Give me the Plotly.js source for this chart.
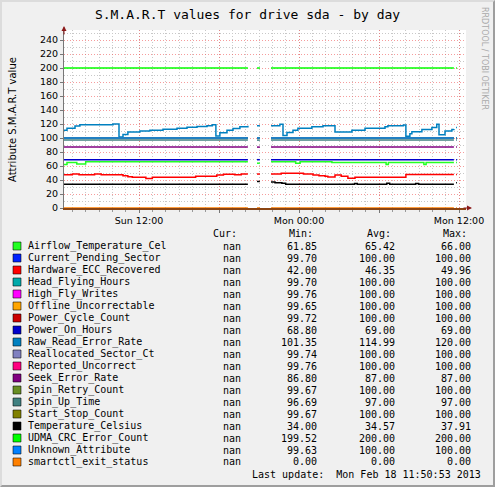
<!DOCTYPE html>
<html>
<head>
<meta charset="utf-8">
<script src="https://cdn.plot.ly/plotly-3.0.1.min.js"></script>
<style>
  html, body { margin: 0; padding: 0; background: #f0f0f0; }
  #wrap { position: relative; width: 495px; height: 487px; }
  #chart { width: 495px; height: 487px; }
  #frame { position: absolute; left: 0; top: 0; width: 495px; height: 487px; box-sizing: border-box;
           border-left: 2px solid #dcdcdc; border-top: 2px solid #dcdcdc;
           border-right: 2px solid #9e9e9e; border-bottom: 2px solid #9e9e9e; pointer-events: none; }
</style>
</head>
<body>
<div id="wrap"><div id="chart"></div><div id="frame"></div></div>
<script>
// ---- time window of the day view ----
const viewStart = '2013-02-17 06:22:30';
const viewEnd = '2013-02-18 12:31:30';
const majorTimes = ['2013-02-17 12:00', '2013-02-17 18:00', '2013-02-18 00:00', '2013-02-18 06:00', '2013-02-18 12:00'];
const majorText = ['Sun 12:00', '', 'Mon 00:00', '', 'Mon 12:00'];

// ---- attribute names and colours (drawing order) ----
const seriesNames = ['Airflow_Temperature_Cel', 'Current_Pending_Sector', 'Hardware_ECC_Recovered', 'Head_Flying_Hours',
  'High_Fly_Writes', 'Offline_Uncorrectable', 'Power_Cycle_Count', 'Power_On_Hours', 'Raw_Read_Error_Rate',
  'Reallocated_Sector_Ct', 'Reported_Uncorrect', 'Seek_Error_Rate', 'Spin_Retry_Count', 'Spin_Up_Time',
  'Start_Stop_Count', 'Temperature_Celsius', 'UDMA_CRC_Error_Count', 'Unknown_Attribute', 'smartctl_exit_status'];
const seriesColors = ['#22ff22', '#0022ff', '#ff0000', '#00aaaa', '#ff00ff', '#ffa500', '#cc0000', '#0000cc', '#0080c0',
  '#8080c0', '#ff0080', '#800080', '#688e23', '#408080', '#808000', '#000000', '#00ff00', '#0080ff', '#ff8000'];

// ---- legend statistics ----
const curVals = ['nan', 'nan', 'nan', 'nan', 'nan', 'nan', 'nan', 'nan', 'nan', 'nan', 'nan', 'nan', 'nan', 'nan', 'nan', 'nan', 'nan', 'nan', 'nan'];
const minVals = ['61.85', '99.70', '42.00', '99.70', '99.76', '99.65', '99.72', '68.80', '101.35', '99.74', '99.76', '86.80', '99.67', '96.69', '99.67', '34.00', '199.52', '99.63', '0.00'];
const avgVals = ['65.42', '100.00', '46.35', '100.00', '100.00', '100.00', '100.00', '69.00', '114.99', '100.00', '100.00', '87.00', '100.00', '97.00', '100.00', '34.57', '200.00', '100.00', '0.00'];
const maxVals = ['66.00', '100.00', '49.96', '100.00', '100.00', '100.00', '100.00', '69.00', '120.00', '100.00', '100.00', '87.00', '100.00', '97.00', '100.00', '37.91', '200.00', '100.00', '0.00'];
const lastUpdate = 'Last update:  Mon Feb 18 11:50:53 2013';

// ---- samples for the flat attributes (null = polling gap) ----
const flatTimes = ['2013-02-17 06:22', '2013-02-17 20:10', '2013-02-17 20:30', '2013-02-17 20:51', '2013-02-17 21:04',
  '2013-02-17 21:30', '2013-02-17 21:54', '2013-02-18 11:37', '2013-02-18 11:42', '2013-02-18 11:47', '2013-02-18 11:51'];
const currentPending = [100, 100, null, 100, 100, null, 100, 100, null, 100, 100];
const headFlying = [100, 100, null, 100, 100, null, 100, 100, null, 100, 100];
const highFly = [100, 100, null, 100, 100, null, 100, 100, null, 100, 100];
const offlineUnc = [100, 100, null, 100, 100, null, 100, 100, null, 100, 100];
const powerCycle = [100, 100, null, 100, 100, null, 100, 100, null, 100, 100];
const powerOn = [69, 69, null, 69, 69, null, 69, 69, null, 69, 69];
const reallocated = [100, 100, null, 100, 100, null, 100, 100, null, 100, 100];
const reportedUnc = [100, 100, null, 100, 100, null, 100, 100, null, 100, 100];
const seekError = [87, 87, null, 87, 87, null, 87, 87, null, 87, 87];
const spinRetry = [100, 100, null, 100, 100, null, 100, 100, null, 100, 100];
const spinUp = [97, 97, null, 97, 97, null, 97, 97, null, 97, 97];
const startStop = [100, 100, null, 100, 100, null, 100, 100, null, 100, 100];
const udmaCrc = [200, 200, null, 200, 200, null, 200, 200, null, 200, 200];
const unknownAttr = [100, 100, null, 100, 100, null, 100, 100, null, 100, 100];
const exitStatus = [0, 0, null, 0, 0, null, 0, 0, null, 0, 0];

// ---- Airflow_Temperature_Cel ----
const airTimes = ['2013-02-17 06:22', '2013-02-17 06:36', '2013-02-17 07:20', '2013-02-17 08:00', '2013-02-17 20:10',
  '2013-02-17 20:30', '2013-02-17 20:51', '2013-02-17 21:04', '2013-02-17 21:30', '2013-02-17 21:54', '2013-02-17 23:45',
  '2013-02-18 00:05', '2013-02-18 02:28', '2013-02-18 06:32', '2013-02-18 06:42', '2013-02-18 09:22', '2013-02-18 09:32',
  '2013-02-18 11:37', '2013-02-18 11:42', '2013-02-18 11:47', '2013-02-18 11:51'];
const airVals = [62, 65, 63, 66, 66, null, 64, 64, null, 66, 64, 66, 65, 62, 65, 62, 65, 65, null, 65, 65];

// ---- Hardware_ECC_Recovered ----
const hwTimes = ['2013-02-17 06:22', '2013-02-17 07:00', '2013-02-17 07:30', '2013-02-17 08:40', '2013-02-17 09:10',
  '2013-02-17 10:48', '2013-02-17 11:10', '2013-02-17 11:30', '2013-02-17 12:31', '2013-02-17 13:00', '2013-02-17 16:15',
  '2013-02-17 17:50', '2013-02-17 18:20', '2013-02-17 19:10', '2013-02-17 19:40', '2013-02-17 20:10', '2013-02-17 20:30',
  '2013-02-17 20:51', '2013-02-17 21:04', '2013-02-17 21:30', '2013-02-17 21:54', '2013-02-17 22:40', '2013-02-18 00:20',
  '2013-02-18 01:03', '2013-02-18 01:30', '2013-02-18 01:57', '2013-02-18 02:10', '2013-02-18 02:42', '2013-02-18 03:10',
  '2013-02-18 03:40', '2013-02-18 04:12', '2013-02-18 08:01', '2013-02-18 11:37', '2013-02-18 11:42', '2013-02-18 11:47',
  '2013-02-18 11:51'];
const hwVals = [47.5, 48.5, 47.5, 48.5, 47.5, 46, 44.5, 43.8, 42.3, 43.8, 45.2, 47, 48.2, 47.5, 48.5, 48.5, null, 48.5,
  48.5, null, 48.5, 49.5, 48.5, 47, 46, 45.2, 44.3, 47, 45.2, 42.4, 43.8, 48, 48, null, 48, 48];

// ---- Raw_Read_Error_Rate ----
const rawTimes = ['2013-02-17 06:22', '2013-02-17 06:36', '2013-02-17 07:12', '2013-02-17 07:34', '2013-02-17 10:03',
  '2013-02-17 10:30', '2013-02-17 10:48', '2013-02-17 11:10', '2013-02-17 12:04', '2013-02-17 12:49', '2013-02-17 13:48',
  '2013-02-17 14:51', '2013-02-17 15:36', '2013-02-17 16:21', '2013-02-17 17:06', '2013-02-17 17:30', '2013-02-17 17:46',
  '2013-02-17 18:04', '2013-02-17 18:36', '2013-02-17 19:03', '2013-02-17 19:34', '2013-02-17 20:10', '2013-02-17 20:30',
  '2013-02-17 20:51', '2013-02-17 21:04', '2013-02-17 21:30', '2013-02-17 21:54', '2013-02-17 22:34', '2013-02-17 22:48',
  '2013-02-17 23:06', '2013-02-17 23:33', '2013-02-17 23:55', '2013-02-18 00:58', '2013-02-18 01:48', '2013-02-18 02:42',
  '2013-02-18 03:58', '2013-02-18 04:57', '2013-02-18 06:27', '2013-02-18 06:40', '2013-02-18 07:50', '2013-02-18 08:01',
  '2013-02-18 08:19', '2013-02-18 08:28', '2013-02-18 09:13', '2013-02-18 09:58', '2013-02-18 10:20', '2013-02-18 10:30',
  '2013-02-18 10:57', '2013-02-18 11:28', '2013-02-18 11:37', '2013-02-18 11:42', '2013-02-18 11:47', '2013-02-18 11:51'];
const rawVals = [111, 114, 117, 119, 120, 101.4, 105, 108.5, 110, 111, 112.5, 114, 115.5, 116.5, 117.5, 119, 103, 107.5,
  111, 113.5, 116, 117.5, null, 117.5, 117.5, null, 117.5, 119.5, 103.5, 108, 111, 114, 116, 117.5, 108.5, 111, 114, 116,
  117.5, 118.5, 102.5, 106, 109, 112, 115, 119.5, 104.5, 110, 112, 113, null, 115, 115];

// ---- Temperature_Celsius ----
const tempTimes = ['2013-02-17 06:22', '2013-02-17 20:10', '2013-02-17 20:30', '2013-02-17 20:51', '2013-02-17 21:04',
  '2013-02-17 21:30', '2013-02-17 21:54', '2013-02-17 22:12', '2013-02-17 22:43', '2013-02-17 23:00', '2013-02-18 04:10',
  '2013-02-18 04:22', '2013-02-18 06:35', '2013-02-18 06:48', '2013-02-18 08:45', '2013-02-18 08:58', '2013-02-18 11:37',
  '2013-02-18 11:42', '2013-02-18 11:47', '2013-02-18 11:51'];
const tempVals = [34, 34, null, 37.9, 37.9, null, 37, 36.2, 35.2, 34, 35, 34, 35.5, 34, 35, 34, 34, null, 36, 36];

// samples per attribute, in legend order
const seriesData = [
  [airTimes, airVals], [flatTimes, currentPending], [hwTimes, hwVals], [flatTimes, headFlying],
  [flatTimes, highFly], [flatTimes, offlineUnc], [flatTimes, powerCycle], [flatTimes, powerOn],
  [rawTimes, rawVals], [flatTimes, reallocated], [flatTimes, reportedUnc], [flatTimes, seekError],
  [flatTimes, spinRetry], [flatTimes, spinUp], [flatTimes, startStop], [tempTimes, tempVals],
  [flatTimes, udmaCrc], [flatTimes, unknownAttr], [flatTimes, exitStatus]
];

const traces = seriesNames.map((name, i) => ({
  type: 'scatter', mode: 'lines', name: name,
  x: seriesData[i][0], y: seriesData[i][1],
  line: { color: seriesColors[i], width: 1.5, shape: 'hv' },
  connectgaps: false, hoverinfo: 'skip'
}));

// ---- page geometry ----
const W = 495, H = 487, ML = 64, MR = 29, MT = 30, MB = 279;
const plotW = W - ML - MR, plotH = H - MT - MB;
const px = v => (v - ML) / plotW;          // page x -> paper x
const py = v => (H - MB - v) / plotH;      // page y -> paper y

const mono = 'DejaVu Sans Mono, monospace';
const sans = 'DejaVu Sans, sans-serif';
const annotations = [];
const shapes = [];

function txt(text, x, y, anchor, size, color, extra) {
  annotations.push(Object.assign({
    text: text, xref: 'paper', yref: 'paper', x: px(x), y: py(y), xanchor: anchor, yanchor: 'middle',
    showarrow: false, font: { family: mono, size: size || 10, color: color || '#000' }, borderpad: 0
  }, extra || {}));
}

// column headers
txt('Cur:', 212, 234, 'left');
txt('Min:', 288, 234, 'left');
txt('Avg:', 366, 234, 'left');
txt('Max:', 442, 234, 'left');

// legend rows
seriesNames.forEach((name, i) => {
  const yc = 246 + 12 * i;
  shapes.push({ type: 'rect', xref: 'paper', yref: 'paper', x0: px(13), x1: px(21), y0: py(yc + 4), y1: py(yc - 4),
    fillcolor: seriesColors[i], line: { color: 'rgba(0,0,0,0.55)', width: 1 }, layer: 'above' });
  txt(name, 27, yc, 'left');
  txt(curVals[i], 242, yc, 'right');
  txt(minVals[i], 318, yc, 'right');
  txt(avgVals[i], 396, yc, 'right');
  txt(maxVals[i], 472, yc, 'right');
});
txt(lastUpdate, 482, 474, 'right');

// axis title and side credit
txt('Attribute S.M.A.R.T value', 12, 120, 'center', 10, '#000', { textangle: -90, font: { family: sans, size: 10, color: '#000' } });
txt('RRDTOOL / TOBI OETIKER', 485, 58, 'center', 8, '#aaaaaa', { textangle: 90, font: { family: sans, size: 8, color: '#aaaaaa' } });

// axis arrows
annotations.push({ xref: 'paper', yref: 'paper', x: 0, y: py(26), ax: 0, ay: 10, text: '', showarrow: true,
  arrowhead: 2, arrowsize: 1, arrowwidth: 1, arrowcolor: '#8b1a1a' });
annotations.push({ xref: 'paper', yref: 'paper', x: px(472), y: 0, ax: -10, ay: 0, text: '', showarrow: true,
  arrowhead: 2, arrowsize: 1, arrowwidth: 1, arrowcolor: '#8b1a1a' });

const majorGrid = 'rgba(240,90,90,0.6)';
const minorGrid = '#c8c8c8';

const layout = {
  width: W, height: H,
  margin: { l: ML, r: MR, t: MT, b: MB },
  paper_bgcolor: '#f0f0f0', plot_bgcolor: '#ffffff',
  showlegend: false,
  title: { text: 'S.M.A.R.T values for drive sda - by day', font: { family: mono, size: 13, color: '#000' },
    x: 0.5, xref: 'container', xanchor: 'center', y: 1 - 14 / H, yref: 'container', yanchor: 'middle' },
  xaxis: {
    type: 'date', range: [viewStart, viewEnd],
    tickmode: 'array', tickvals: majorTimes, ticktext: majorText,
    showgrid: true, gridcolor: majorGrid, griddash: '1px,2px', gridwidth: 1,
    ticks: 'outside', ticklen: 3, tickcolor: '#777',
    showline: true, linecolor: '#8b4513', linewidth: 2, zeroline: false,
    tickfont: { family: sans, size: 9.5, color: '#000' },
    minor: { tickmode: 'linear', tick0: '2013-02-17 00:00', dtick: 3600000, showgrid: true,
      gridcolor: minorGrid, griddash: '1px,2px', gridwidth: 1, ticks: 'outside', ticklen: 2, tickcolor: '#999' },
    fixedrange: true
  },
  yaxis: {
    range: [0, 254.3], tickmode: 'linear', tick0: 0, dtick: 20,
    showgrid: true, gridcolor: majorGrid, griddash: '1px,2px', gridwidth: 1,
    minor: { tickmode: 'linear', tick0: 0, dtick: 10, showgrid: true, gridcolor: minorGrid, griddash: '1px,2px', gridwidth: 1 },
    ticks: 'outside', ticklen: 3, tickcolor: '#777',
    showline: true, linecolor: '#777', linewidth: 1, zeroline: false,
    tickfont: { family: sans, size: 9.5, color: '#000' },
    fixedrange: true
  },
  annotations: annotations,
  shapes: shapes
};

Plotly.newPlot('chart', traces, layout, { staticPlot: true, displayModeBar: false });
</script>
</body>
</html>
